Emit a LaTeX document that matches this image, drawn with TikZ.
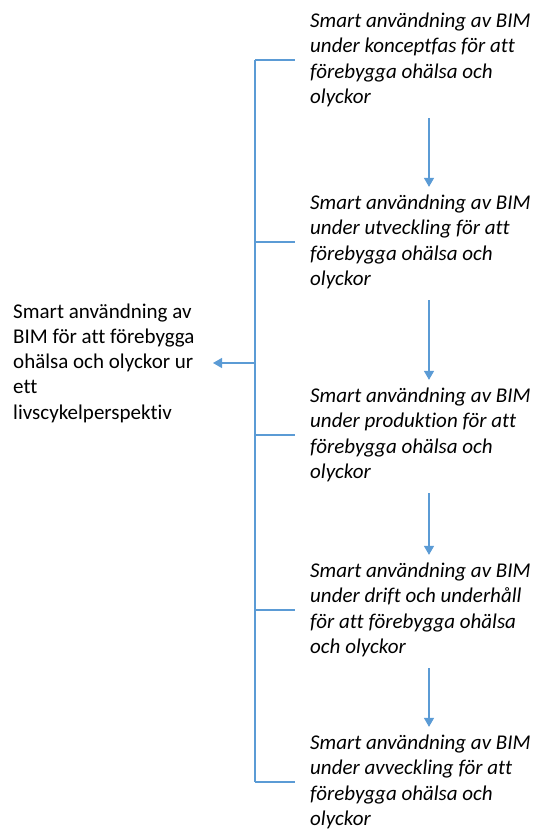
\documentclass[tikz,border=0pt]{standalone}
\usepackage{fontspec}
\setmainfont[Ligatures={NoCommon}]{Carlito}
\usepackage{tikz}
\usetikzlibrary{calc}
\usetikzlibrary{arrows.meta}
\usetikzlibrary{positioning}
\definecolor{officeblue}{RGB}{91, 155, 213}

\begin{document}
\begin{tikzpicture}[x=1pt, y=-1pt,
        phase/.style   = {anchor=west, align=left, inner sep=0pt, font=\fontsize{21}{25.3}\selectfont\itshape},
        goalbox/.style = {anchor=west, align=left, inner sep=0pt, font=\fontsize{21}{25.3}\selectfont},
        link/.style    = {draw=officeblue, line width=1.2pt},
        flow/.style    = {link, -{Triangle[width=10pt,length=9pt]}, shorten <=11pt, shorten >=8pt}]
            \useasboundingbox (0,0) rectangle (534,832);
            % phases
            \node[phase] (konc) at (310, 60)  {Smart användning av BIM\\under konceptfas för att\\förebygga ohälsa och\\olyckor};
            \node[phase] (utv)  at (310,242)  {Smart användning av BIM\\under utveckling för att\\förebygga ohälsa och\\olyckor};
            \node[phase] (prod) at (310,435)  {Smart användning av BIM\\under produktion för att\\förebygga ohälsa och\\olyckor};
            \node[phase] (drift) at (310,610) {Smart användning av BIM\\under drift och underhåll\\för att förebygga ohälsa\\och olyckor};
            \node[phase] (avv)  at (310,782)  {Smart användning av BIM\\under avveckling för att\\förebygga ohälsa och\\olyckor};
            % overall goal
            \node[goalbox] (goal) at (13,363) {Smart användning av\\BIM för att förebygga\\ohälsa och olyckor ur\\ett\\livscykelperspektiv};
            \coordinate (spine) at (255,0);
            \coordinate (axis)  at (429,0);
            % bracket
            \draw[link] (spine |- konc.west) -- (spine |- avv.west);
            \foreach \p in {konc, utv, prod, drift, avv}
                \draw[link] (spine |- \p.west) -- ++(40,0);
            \draw[flow, shorten <=0pt, shorten >=0pt] (spine |- goal.west) -- (213,0 |- goal.west);
            % sequence
            \draw[flow] (konc.south -| axis)  -- (utv.north -| axis);
            \draw[flow] (utv.south -| axis)   -- (prod.north -| axis);
            \draw[flow] (prod.south -| axis)  -- (drift.north -| axis);
            \draw[flow] (drift.south -| axis) -- (avv.north -| axis);
        \end{tikzpicture}
\end{document}
